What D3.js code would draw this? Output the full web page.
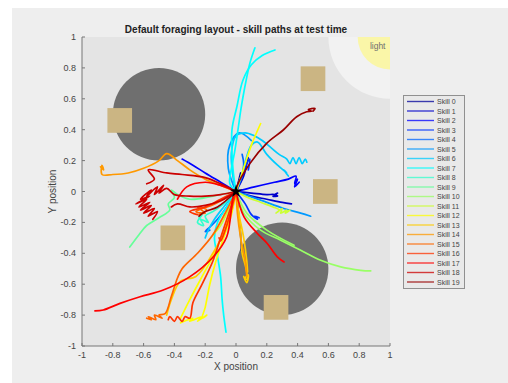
<!DOCTYPE html>
<html><head><meta charset="utf-8">
<script src="https://cdn.jsdelivr.net/npm/d3@7"></script>
<style>body{margin:0;background:#fff;} svg{display:block;font-family:"Liberation Sans",Arial,sans-serif;}</style>
</head><body>
<script>
const skillNames = ["Skill 0","Skill 1","Skill 2","Skill 3","Skill 4","Skill 5","Skill 6","Skill 7","Skill 8","Skill 9","Skill 10","Skill 11","Skill 12","Skill 13","Skill 14","Skill 15","Skill 16","Skill 17","Skill 18","Skill 19"];
const skillColors = ["#000099","#0000cc","#0000ff","#0033ff","#0066ff","#0099ff","#00ccff","#00ffff","#33ffcc","#66ff99","#99ff66","#ccff33","#ffff00","#ffcc00","#ff9900","#ff6600","#ff3300","#ff0000","#cc0000","#990000"];
const xTicks = [-1,-0.8,-0.6,-0.4,-0.2,0,0.2,0.4,0.6,0.8,1];
const yTicks = [-1,-0.8,-0.6,-0.4,-0.2,0,0.2,0.4,0.6,0.8,1];
const obstacleCenters = [[-0.5,0.5],[0.3,-0.5]];
const obstacleRadius = 0.3;
const foodCenters = [[-0.755,0.46],[0.5,0.73],[0.58,0],[-0.41,-0.3],[0.26,-0.75]];
const foodSide = 0.16;
const lightCenter = [1,1];
const lightRadii = [0.4,0.21];
const skillPaths = [
 [[[0,0],[0.01,-0.08],[0.02,-0.18],[0.03,-0.28],[0.035,-0.38]],[[0,0],[0.02,0.08],[0.03,0.12]]],
 [[[0,0],[0.1,-0.03],[0.2,-0.05],[0.3,-0.07],[0.36,-0.08]],[[0,0],[0.05,0.1],[0.07,0.18],[0.08,0.22],[0.06,0.15]],[[0,0],[0.1,-0.01],[0.2,-0.02],[0.25,-0.02],[0.27,-0.03],[0.24,-0.03],[0.27,-0.01]]],
 [[[0,0],[-0.1,0.06],[-0.2,0.12],[-0.28,0.17],[-0.35,0.21]],[[0,0],[0.12,0.03],[0.25,0.06],[0.34,0.08],[0.39,0.1],[0.38,0.05],[0.4,0.08],[0.38,0.03],[0.41,0.06]]],
 [[[0,0],[0.03,0.08],[0.06,0.16],[0.09,0.21],[0.08,0.14]],[[0,0],[0.06,-0.08],[0.1,-0.15],[0.14,-0.18],[0.12,-0.16],[0.15,-0.17]]],
 [[[0,0],[-0.06,-0.1],[-0.12,-0.18],[-0.17,-0.23],[-0.2,-0.26],[-0.17,-0.25]],[[0,0],[0.04,0.1],[0.05,0.18],[0.04,0.24]]],
 [[[0,0],[0.16,-0.056],[0.31,-0.11],[0.42,-0.14],[0.485,-0.16]],[[0,0],[-0.05,0.15],[-0.04,0.3],[0.02,0.38],[0.1,0.33]]],
 [[[0,0],[-0.02,0.1],[-0.03,0.25],[0,0.36],[0.06,0.38],[0.12,0.36],[0.17,0.33],[0.22,0.29],[0.28,0.24],[0.33,0.21],[0.35,0.18],[0.37,0.22],[0.39,0.18],[0.41,0.22],[0.43,0.18],[0.45,0.21],[0.46,0.19]],[[0,0],[0.04,0.12],[0.1,0.3],[0.14,0.32],[0.2,0.24],[0.27,0.17],[0.33,0.12],[0.31,0.14],[0.34,0.1]],[[0,0],[-0.08,-0.1],[-0.14,-0.18],[-0.18,-0.25],[-0.2,-0.3]]],
 [[[0,0],[-0.04,0.05],[-0.03,0.15],[-0.01,0.25],[0.013,0.4],[0.03,0.52],[0.045,0.61],[0.07,0.74],[0.09,0.83],[0.123,0.93]],[[0,0],[-0.02,0.15],[-0.026,0.4],[0.006,0.55],[0.045,0.72],[0.1,0.82],[0.17,0.88],[0.253,0.916]],[[0,0],[-0.06,-0.1],[-0.12,-0.2],[-0.14,-0.3],[-0.12,-0.42],[-0.1,-0.55],[-0.09,-0.7],[-0.08,-0.8],[-0.065,-0.91]]],
 [[[0,0],[-0.08,-0.08],[-0.15,-0.13],[-0.2,-0.16],[-0.18,-0.2],[-0.23,-0.18],[-0.21,-0.22],[-0.25,-0.2],[-0.22,-0.15],[-0.24,-0.17]]],
 [[[0,0],[-0.15,-0.03],[-0.3,-0.05],[-0.38,-0.02],[-0.42,0.01],[-0.4,-0.04],[-0.44,-0.08],[-0.43,-0.12],[-0.5,-0.17],[-0.58,-0.22],[-0.63,-0.28],[-0.69,-0.36]]],
 [[[0,0],[0.052,-0.143],[0.16,-0.25],[0.29,-0.315],[0.42,-0.38],[0.55,-0.445],[0.68,-0.488],[0.81,-0.51],[0.875,-0.514]],[[0,0],[0.07,-0.14],[0.2,-0.25],[0.377,-0.348]]],
 [[[0,0],[0.08,-0.04],[0.16,-0.07],[0.24,-0.1],[0.28,-0.12],[0.26,-0.14],[0.3,-0.11],[0.29,-0.14],[0.33,-0.12],[0.32,-0.14],[0.35,-0.12]],[[0,0],[-0.05,-0.12],[-0.1,-0.22],[-0.15,-0.28]]],
 [[[0,0],[0.05,0.15],[0.1,0.3],[0.16,0.44]],[[0,0],[-0.03,-0.15],[-0.08,-0.3],[-0.13,-0.45],[-0.17,-0.6],[-0.2,-0.75],[-0.22,-0.82],[-0.19,-0.8],[-0.25,-0.84],[-0.22,-0.81],[-0.3,-0.84],[-0.28,-0.82],[-0.36,-0.85]],[[0,0],[-0.06,-0.2],[-0.14,-0.4],[-0.22,-0.55],[-0.3,-0.7],[-0.36,-0.82]]],
 [[[0,0],[0.009,-0.1],[0.03,-0.27],[0.04,-0.4],[0.063,-0.49],[0.074,-0.57],[0.06,-0.56],[0.08,-0.54],[0.07,-0.59],[0.05,-0.55]],[[0,0],[0.02,-0.15],[0.05,-0.3],[0.07,-0.45],[0.075,-0.52]],[[0,0],[-0.05,-0.2],[-0.15,-0.4],[-0.26,-0.55],[-0.36,-0.58],[-0.42,-0.7],[-0.45,-0.8]]],
 [[[0,0],[-0.1,0.04],[-0.2,0.08],[-0.3,0.14],[-0.38,0.2],[-0.45,0.245],[-0.5,0.2],[-0.6,0.15],[-0.7,0.12],[-0.8,0.11],[-0.87,0.11],[-0.87,0.17],[-0.86,0.14],[-0.88,0.16]],[[0,0],[0.01,-0.15],[0.03,-0.3],[0.06,-0.45],[0.07,-0.55]]],
 [[[0,0],[-0.08,-0.05],[-0.16,-0.09],[-0.22,-0.11],[-0.26,-0.13],[-0.2,-0.14],[-0.25,-0.1],[-0.19,-0.12],[-0.24,-0.15]],[[0,0],[-0.06,-0.12],[-0.15,-0.28],[-0.25,-0.4],[-0.35,-0.5],[-0.38,-0.56],[-0.42,-0.68],[-0.46,-0.79],[-0.5,-0.8],[-0.48,-0.82],[-0.53,-0.8],[-0.52,-0.83],[-0.57,-0.81],[-0.55,-0.83],[-0.58,-0.82]]],
 [[[0,0],[-0.04,-0.15],[-0.07,-0.25],[-0.1,-0.32],[-0.11,-0.3]],[[0,0],[-0.1,-0.05],[-0.2,-0.1],[-0.3,-0.13],[-0.25,-0.15]],[[0,0],[-0.05,-0.15],[-0.1,-0.3],[-0.15,-0.45],[-0.22,-0.6],[-0.28,-0.72],[-0.3,-0.82],[-0.33,-0.81],[-0.35,-0.84],[-0.38,-0.81],[-0.4,-0.84],[-0.43,-0.81],[-0.44,-0.83]]],
 [[[0,0],[-0.018,-0.034],[-0.06,-0.293],[-0.147,-0.422],[-0.299,-0.551],[-0.472,-0.638],[-0.623,-0.681],[-0.753,-0.724],[-0.862,-0.767],[-0.916,-0.773]],[[0,0],[0.052,-0.164],[0.139,-0.272],[0.203,-0.337],[0.268,-0.423],[0.312,-0.456]],[[0,0],[-0.1,0.04],[-0.2,0.06],[-0.32,0.03],[-0.38,-0.05]]],
 [[[0,0],[-0.1,-0.02],[-0.2,-0.03],[-0.3,-0.03],[-0.4,-0.02],[-0.45,0.02],[-0.5,-0.01],[-0.47,0.04],[-0.53,-0.02],[-0.51,0.03],[-0.58,-0.03],[-0.55,0.01],[-0.62,-0.05],[-0.56,-0.03],[-0.65,-0.08],[-0.58,-0.05],[-0.63,-0.1],[-0.56,-0.07],[-0.62,-0.12],[-0.55,-0.09],[-0.6,-0.14],[-0.53,-0.11],[-0.57,-0.16],[-0.51,-0.13],[-0.54,-0.18]],[[0,0],[-0.1,0.05],[-0.2,0.09],[-0.35,0.11],[-0.45,0.12],[-0.57,0.14],[-0.53,0.08],[-0.58,0.05]],[[0,0],[-0.1,-0.06],[-0.2,-0.09],[-0.3,-0.1],[-0.38,-0.08],[-0.42,-0.1]]],
 [[[0,0],[0.005,0.031],[0.091,0.182],[0.199,0.312],[0.307,0.398],[0.394,0.484],[0.459,0.516],[0.49,0.52],[0.47,0.53],[0.513,0.538],[0.5,0.52]],[[0,0],[-0.12,-0.1],[-0.2,-0.13],[-0.24,-0.16]]]
];

const W = 508, H = 383;
const svg = d3.select("body").append("svg").attr("width", W).attr("height", H);
svg.append("rect").attr("x", 12).attr("y", 8).attr("width", W - 12).attr("height", H - 8).attr("fill", "#eeeeee");

const x = d3.scaleLinear().domain([-1, 1]).range([82, 390]);
const y = d3.scaleLinear().domain([-1, 1]).range([346, 37]);

svg.append("clipPath").attr("id", "clip").append("rect")
  .attr("x", x(-1)).attr("y", y(1)).attr("width", x(1) - x(-1)).attr("height", y(-1) - y(1));
svg.append("rect").attr("x", x(-1)).attr("y", y(1)).attr("width", x(1) - x(-1)).attr("height", y(-1) - y(1)).attr("fill", "#e4e4e4");

const g = svg.append("g").attr("clip-path", "url(#clip)");
const kx = (x(1) - x(-1)) / 2;
const ky = (y(-1) - y(1)) / 2;
g.append("ellipse").attr("cx", x(lightCenter[0])).attr("cy", y(lightCenter[1]))
  .attr("rx", lightRadii[0] * kx).attr("ry", lightRadii[0] * ky).attr("fill", "#f2f2f2");
g.append("ellipse").attr("cx", x(lightCenter[0])).attr("cy", y(lightCenter[1]))
  .attr("rx", lightRadii[1] * kx).attr("ry", lightRadii[1] * ky).attr("fill", "#faf6a8");
g.append("text").attr("x", x(0.92)).attr("y", y(0.92)).attr("text-anchor", "middle")
  .attr("font-size", 8.5).attr("fill", "#707070").text("light");

g.selectAll(".obs").data(obstacleCenters).join("ellipse")
  .attr("cx", d => x(d[0])).attr("cy", d => y(d[1]))
  .attr("rx", obstacleRadius * kx).attr("ry", obstacleRadius * ky).attr("fill", "#6f6f6f");
g.selectAll(".food").data(foodCenters).join("rect")
  .attr("x", d => x(d[0] - foodSide / 2)).attr("y", d => y(d[1] + foodSide / 2))
  .attr("width", d => x(d[0] + foodSide / 2) - x(d[0] - foodSide / 2))
  .attr("height", d => y(d[1] - foodSide / 2) - y(d[1] + foodSide / 2))
  .attr("fill", "#cbb583");

const line = d3.line().x(d => x(d[0])).y(d => y(d[1])).curve(d3.curveCatmullRom.alpha(0.5));
skillPaths.forEach((paths, i) => {
  g.selectAll(null).data(paths).join("path")
    .attr("d", line).attr("fill", "none").attr("stroke", skillColors[i])
    .attr("stroke-width", 1.7).attr("stroke-linejoin", "round").attr("stroke-linecap", "round");
});
g.append("path").attr("d", d3.symbol().type(d3.symbolStar).size(50)())
  .attr("transform", `translate(${x(0)},${y(0)})`).attr("fill", "#000");

const axisColor = "#777", textColor = "#444";
const ax = svg.append("g");
ax.append("line").attr("x1", x(-1)).attr("x2", x(1)).attr("y1", y(-1)).attr("y2", y(-1)).attr("stroke", axisColor);
ax.append("line").attr("x1", x(-1)).attr("x2", x(-1)).attr("y1", y(-1)).attr("y2", y(1)).attr("stroke", axisColor);
ax.selectAll(".xt").data(xTicks).join("line")
  .attr("x1", d => x(d)).attr("x2", d => x(d)).attr("y1", y(-1)).attr("y2", y(-1) - 3).attr("stroke", axisColor);
ax.selectAll(".yt").data(yTicks).join("line")
  .attr("x1", x(-1)).attr("x2", x(-1) + 3).attr("y1", d => y(d)).attr("y2", d => y(d)).attr("stroke", axisColor);
ax.selectAll(".xl").data(xTicks).join("text")
  .attr("x", d => x(d)).attr("y", y(-1) + 12).attr("text-anchor", "middle")
  .attr("font-size", 9).attr("fill", textColor).text(d => String(d));
ax.selectAll(".yl").data(yTicks).join("text")
  .attr("x", x(-1) - 6).attr("y", d => y(d) + 3).attr("text-anchor", "end")
  .attr("font-size", 9).attr("fill", textColor).text(d => String(d));
svg.append("text").attr("x", (x(-1) + x(1)) / 2).attr("y", 370).attr("text-anchor", "middle")
  .attr("font-size", 10).attr("fill", textColor).text("X position");
svg.append("text").attr("transform", `translate(56,${(y(-1) + y(1)) / 2}) rotate(-90)`)
  .attr("text-anchor", "middle").attr("font-size", 10).attr("fill", textColor).text("Y position");
svg.append("text").attr("x", 236).attr("y", 33).attr("text-anchor", "middle")
  .attr("font-size", 10).attr("font-weight", "bold").attr("fill", "#222")
  .text("Default foraging layout - skill paths at test time");

const lg = svg.append("g");
lg.append("rect").attr("x", 403.5).attr("y", 95.5).attr("width", 61).attr("height", 193)
  .attr("fill", "#e9e9e9").attr("stroke", "#909090");
skillNames.forEach((n, i) => {
  const yy = 101.5 + i * 9.5;
  lg.append("line").attr("x1", 407).attr("x2", 434).attr("y1", yy).attr("y2", yy)
    .attr("stroke", skillColors[i]).attr("stroke-width", 1.4).attr("opacity", 0.75);
  lg.append("text").attr("x", 437).attr("y", yy + 2.5).attr("font-size", 7).attr("fill", "#444").text(n);
});
</script>
</body></html>
